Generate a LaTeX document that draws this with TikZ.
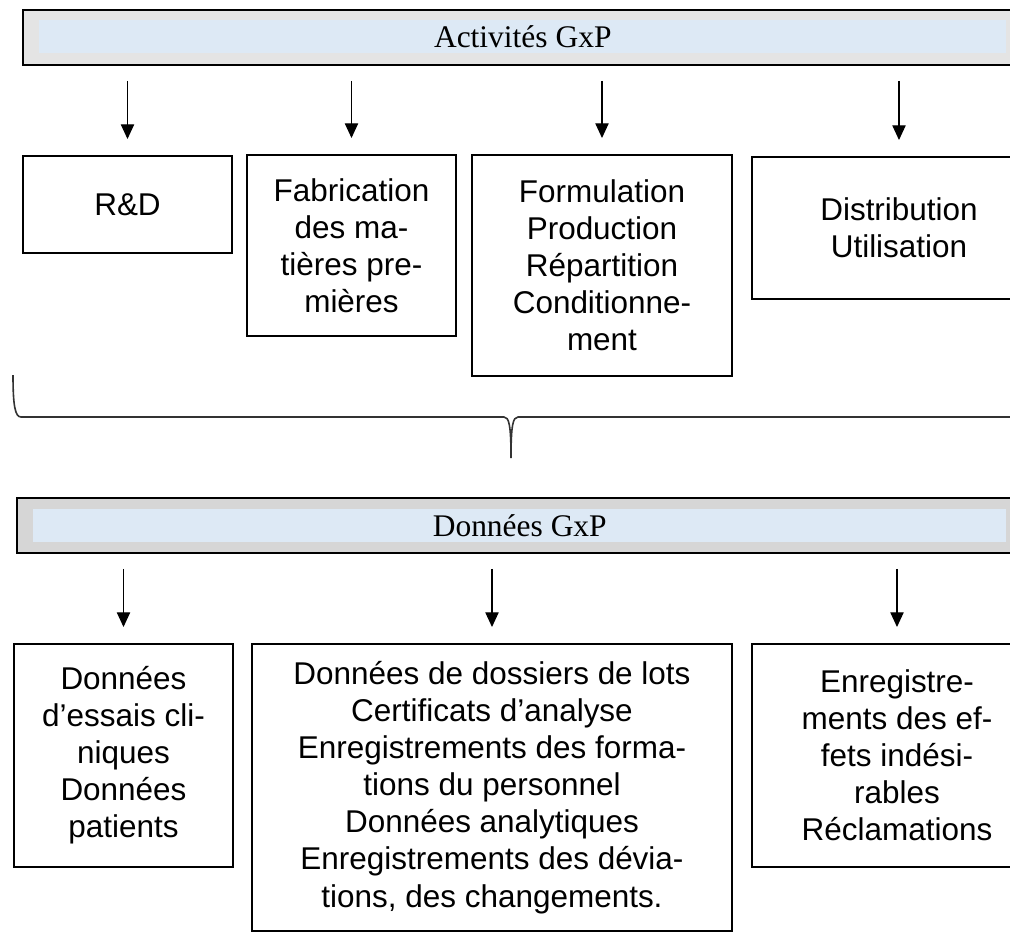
\documentclass[tikz,border=0pt]{standalone}
\usepackage{fontspec}
\setmainfont{Liberation Serif}
\setsansfont{Liberation Sans}
\usetikzlibrary{arrows.meta, positioning}

\definecolor{bandgray}{HTML}{E4E4E4}
\definecolor{bandgraydark}{HTML}{D6D6D6}
\definecolor{bandblue}{HTML}{DDE9F5}

\begin{document}
\begin{tikzpicture}[x=0.75pt, y=-0.75pt,
    every node/.style={font=\sffamily\fontsize{23.6}{27.8}\selectfont},
    band/.style={draw=black, line width=1.6pt, fill=bandgray, inner sep=0pt, anchor=north west},
    bandin/.style={fill=bandblue, inner sep=0pt, anchor=north west, font=\rmfamily\fontsize{23.6}{27.8}\selectfont},
    box/.style={draw=black, line width=1.5pt, inner sep=0pt, align=center, anchor=north west},
    arr/.style={-{Triangle[length=11pt, width=10pt]}, line width=0.8pt, shorten <=11pt, shorten >=12pt}]
    \useasboundingbox (0,0) rectangle (1010,936);

    % Activities
    \node[band, minimum width=753pt, minimum height=41.25pt] (act) at (22,9) {};
    \node[bandin, minimum width=725.25pt, minimum height=24.75pt] (acttxt) at (39,20) {Activités GxP};

    \node[box, minimum width=156.75pt, minimum height=72.75pt] (rd) at (22,155) {R\&D};
    \node[box, minimum width=156.75pt, minimum height=135.75pt] (fab) at (246,154) {Fabrication\\des ma-\\tières pre-\\mières};
    \node[box, minimum width=195pt, minimum height=165.75pt] (form) at (471,154) {Formulation\\Production\\Répartition\\Conditionne-\\ment};
    \node[box, minimum width=220.5pt, minimum height=106.5pt] (dist) at (751,156) {Distribution\\Utilisation};

    \foreach \b in {rd, fab, form, dist}
        \draw[arr] (act.south -| \b.north) -- (\b.north);

    % brace
    \draw[black!80, line width=1.2pt] (13,375) .. controls (13,405) and (15,417) .. (21,417)
        -- (504,417) .. controls (509,417) and (511,425) .. (511,458)
        .. controls (511,425) and (513,417) .. (518,417) -- (1020,417);

    % Data
    \node[band, fill=bandgraydark, minimum width=757.5pt, minimum height=41.25pt] (data) at (16,497) {};
    \node[bandin, minimum width=729.75pt, minimum height=24.75pt] (datatxt) at (33,509) {Données GxP};

    \node[box, minimum width=164.25pt, minimum height=167.25pt] (essais) at (13,643) {Données\\d’essais cli-\\niques\\Données\\patients};
    \node[box, minimum width=360pt, minimum height=215.25pt] (lots) at (251,643) {Données de dossiers de lots\\Certificats d’analyse\\Enregistrements des forma-\\tions du personnel\\Données analytiques\\Enregistrements des dévia-\\tions, des changements.};
    \node[box, minimum width=217.5pt, minimum height=167.25pt] (effets) at (751,643) {Enregistre-\\ments des ef-\\fets indési-\\rables\\Réclamations};

    \foreach \b in {essais, lots, effets}
        \draw[arr] (data.south -| \b.north) -- (\b.north);
\end{tikzpicture}
\end{document}
